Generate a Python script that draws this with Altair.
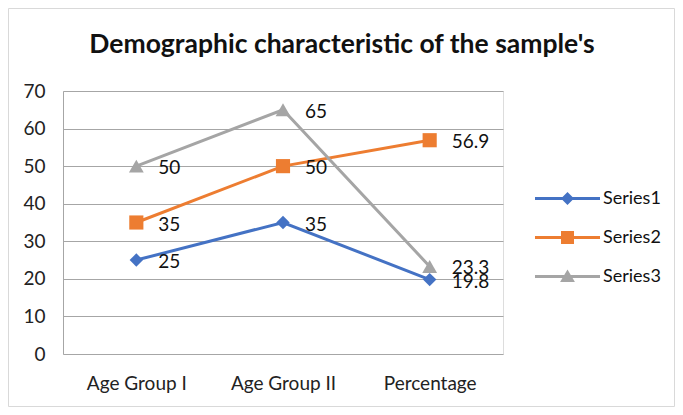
import altair as alt
import pandas as pd

categories = ["Age Group I", "Age Group II", "Percentage"]
series_names = ["Series1", "Series2", "Series3"]
series1 = [25, 35, 19.8]
series2 = [35, 50, 56.9]
series3 = [50, 65, 23.3]
colors = ["#4472C4", "#ED7D31", "#A5A5A5"]
marker_shapes = ["diamond", "square", "triangle-up"]
y_ticks = [0, 10, 20, 30, 40, 50, 60, 70]
title_text = "Demographic characteristic of the sample's"

rows = []
for name, vals in zip(series_names, [series1, series2, series3]):
    for c, v in zip(categories, vals):
        rows.append({"category": c, "series": name, "value": v})
df = pd.DataFrame(rows)

FONT = "Lato"
FS = 19
base = alt.Chart(df)
x_enc = alt.X("category:N", sort=categories, title=None,
              axis=alt.Axis(domain=False, ticks=False, labelAngle=0, labelPadding=20,
                            labelFontSize=FS, labelColor="#222222", labelFont=FONT))
y_enc = alt.Y("value:Q", title=None, scale=alt.Scale(domain=[0, 70], nice=False),
              axis=alt.Axis(values=y_ticks, domain=True, domainColor="#a6a6a6", ticks=False,
                            grid=True, gridColor="#a6a6a6", labelPadding=18,
                            labelFontSize=FS, labelColor="#222222", labelFont=FONT))

series_layers = []
sizes = [180, 200, 220]
for name, shp, sz, col in zip(series_names, marker_shapes, sizes, colors):
    sub = base.transform_filter(alt.datum.series == name)
    series_layers.append(sub.mark_line(strokeWidth=3, color=col).encode(x=x_enc, y=y_enc))
for name, shp, sz, col in zip(series_names, marker_shapes, sizes, colors):
    sub = base.transform_filter(alt.datum.series == name)
    series_layers.append(sub.mark_point(shape=shp, filled=True, size=sz, opacity=1, color=col)
                         .encode(x=x_enc, y=y_enc))

labels = base.mark_text(align="left", baseline="middle", dx=22, dy=2, fontSize=FS,
                        font=FONT, color="#111111").encode(
    x=x_enc, y=y_enc, text=alt.Text("value:Q"))

bar = "M-1.667,-0.077H1.667V0.077H-1.667Z"
leg_paths = [
    bar + "M0,-0.333L0.333,0L0,0.333L-0.333,0Z",
    bar + "M-0.333,-0.333H0.333V0.333H-0.333Z",
    bar + "M0,-0.36L0.38,0.28H-0.38Z",
]
leg = alt.Legend(title=None, orient="none", legendX=485, legendY=88,
                 symbolSize=1521, symbolStrokeWidth=0, symbolOpacity=1,
                 labelFontSize=18, labelFont=FONT, labelColor="#111111",
                 labelOffset=16, rowPadding=10)
legend_layer = base.transform_filter("datum.value < 0").mark_point(filled=True, opacity=1).encode(
    x=x_enc, y=y_enc,
    color=alt.Color("series:N", scale=alt.Scale(domain=series_names, range=colors), legend=leg),
    shape=alt.Shape("series:N", scale=alt.Scale(domain=series_names, range=leg_paths), legend=leg),
)

one = pd.DataFrame({"t": [title_text]})
frame = alt.Chart(one).mark_rect(fill=None, stroke="#d9d9d9", strokeWidth=1).encode(
    x=alt.value(-54.5), x2=alt.value(611.5), y=alt.value(-82.5), y2=alt.value(315.5))
title = alt.Chart(one).mark_text(fontSize=26.5, fontWeight="bold", font=FONT, color="#111111",
                                 align="center", baseline="middle").encode(
    text="t:N", x=alt.value(279), y=alt.value(-46))

chart = alt.layer(frame, title, *series_layers, labels, legend_layer).properties(
    width=440, height=263,
    autosize=alt.AutoSizeParams(type="none"),
    padding={"left": 55, "top": 83, "right": 172, "bottom": 53},
).configure_view(stroke=None).configure(background="white")

chart.save("out.html", embed_options={"renderer": "svg", "actions": False})
